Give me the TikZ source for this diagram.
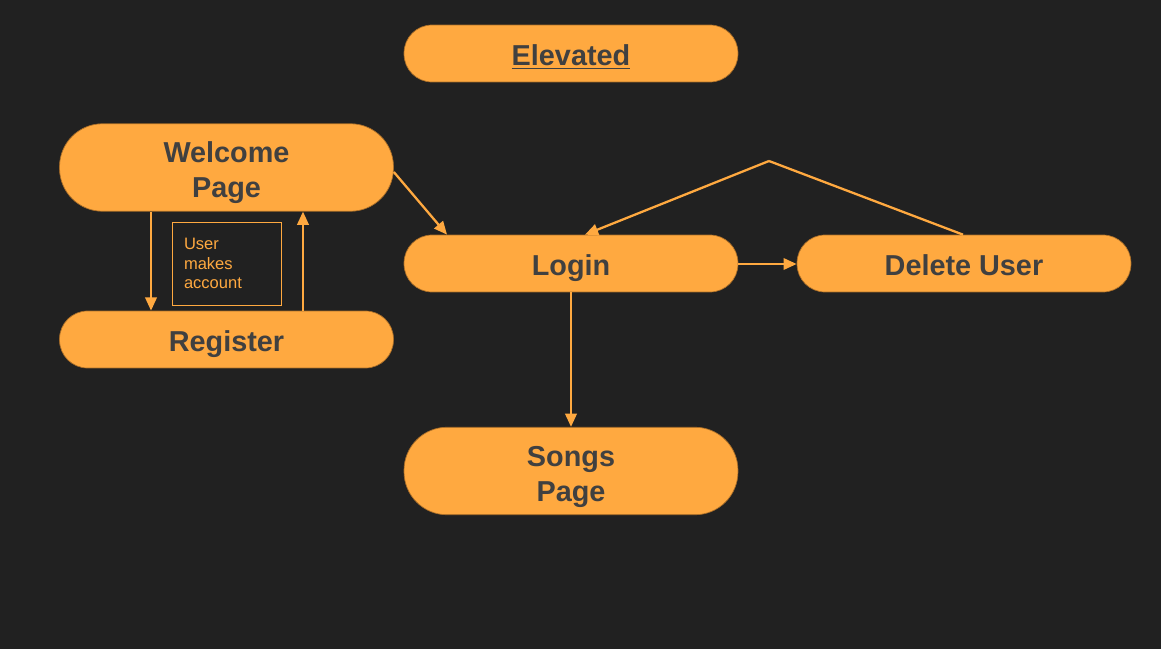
\documentclass[tikz,border=0pt]{standalone}
\usepackage{fontspec}
\setmainfont{Liberation Sans}
\usetikzlibrary{arrows.meta}
\definecolor{bgdark}{RGB}{33,33,33}
\definecolor{pillorange}{RGB}{255,169,64}
\definecolor{pilledge}{RGB}{170,110,40}
\definecolor{pilltext}{RGB}{64,64,64}

\begin{document}
\begin{tikzpicture}[x=0.02cm, y=-0.02cm,
    pill/.style={rectangle, rounded corners=0.56cm, fill=pillorange, draw=pilledge, line width=0.4pt,
      minimum width=6.68cm, minimum height=1.14cm, text=pilltext, align=center,
      text height=14.2pt, text depth=0pt,
      font=\fontsize{16.4}{19.8}\selectfont\bfseries},
    tallpill/.style={pill, rounded corners=0.86cm, minimum height=1.75cm, text height=34.4pt},
    note/.style={rectangle, draw=pillorange, line width=0.5pt, text=pillorange, align=left,
      minimum width=2.18cm, minimum height=1.66cm, text width=1.7cm,
      font=\fontsize{9.4}{11}\selectfont},
    arr/.style={draw=pillorange, line width=1.3pt, -{Triangle[length=7.5pt, width=6.5pt]}},
    link/.style={draw=pillorange, line width=1.3pt}]
    \fill[bgdark] (0,0) rectangle (1161,649);
    \useasboundingbox (0,0) rectangle (1161,649);
    \node[pill] (elevated) at (571,53.5) {\underline{Elevated}};
    \node[tallpill] (welcome) at (226.5,167.5) {Welcome\\Page};
    \node[pill] (register) at (226.5,339.5) {Register};
    \node[pill] (login) at (571,263.5) {Login};
    \node[pill] (delete) at (964,263.5) {Delete User};
    \node[tallpill] (songs) at (571,471) {Songs\\Page};
    \node[note] (account) at (226.5,263.5) {User\\makes\\account};
    \coordinate (apex) at (769,161);
    \draw[arr] ([xshift=-1.51cm]welcome.south) -- ([xshift=-1.51cm]register.north);
    \draw[arr] ([xshift=1.53cm]register.north) -- ([xshift=1.53cm]welcome.south);
    \draw[arr] ([yshift=-0.09cm]welcome.east) -- ([xshift=-2.48cm]login.north);
    \draw[link] ([xshift=-0.02cm]delete.north) -- (apex);
    \draw[arr] (apex) -- ([xshift=0.28cm]login.north);
    \draw[arr] ([yshift=-0.01cm]login.east) -- ([yshift=-0.01cm]delete.west);
    \draw[arr] (login.south) -- (songs.north);
  \end{tikzpicture}
\end{document}
